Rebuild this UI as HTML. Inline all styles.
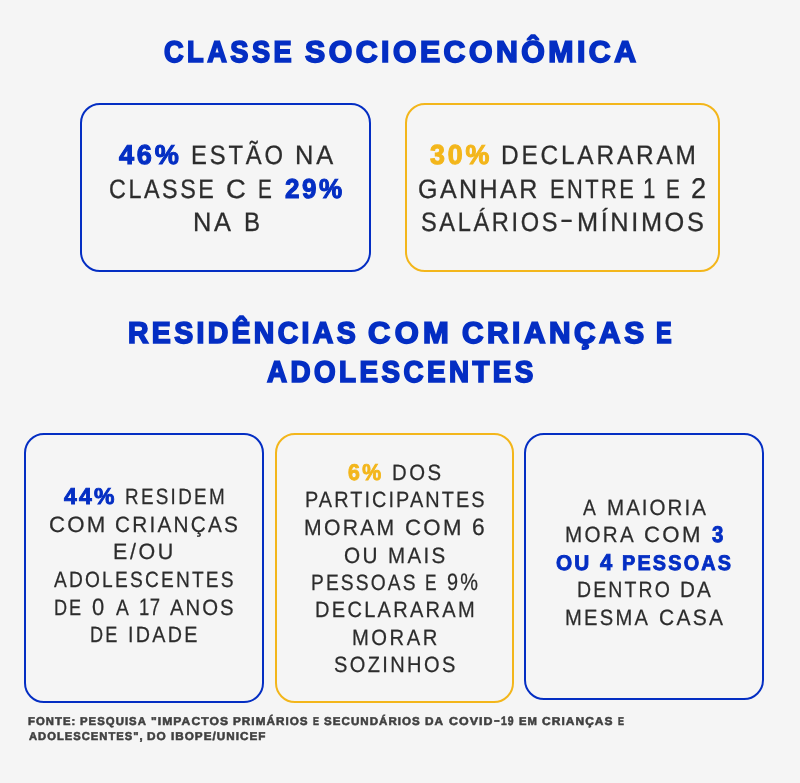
<!DOCTYPE html>
<html lang="pt-BR"><head><meta charset="utf-8"><title>Classe socioeconômica</title>
<style>
html,body{margin:0;padding:0;background:#f5f5f5;}
body{width:800px;height:783px;background:#f5f5f5;position:relative;overflow:hidden;font-family:"Liberation Sans",sans-serif;text-rendering:geometricPrecision;}
.card{position:absolute;box-sizing:border-box;border:2.2px solid;border-radius:20px;}
.ln{position:absolute;left:0;top:0;margin:0;padding:0;white-space:nowrap;font-size:0;font-weight:400;}
.ln span{position:absolute;white-space:nowrap;display:block;transform-origin:0 0;}
.t span{line-height:40px;height:40px;}
.b span{line-height:34px;height:34px;}
.s span{line-height:28px;height:28px;}
.f span{line-height:16px;height:16px;}
.B{font-weight:700;} .R{font-weight:400;}
.blue{color:#042ec3;} .yel{color:#f3b61b;} .dark{color:#2c2c2c;} .foot{color:#404040;}
</style></head><body>
<main>
<h1 class="ln t"><span class="B blue" style="left:164.12px;top:33px;font-size:30.09px;letter-spacing:3.84px;transform:scaleX(0.904);-webkit-text-stroke:1.7px">CLASSE</span> <span class="B blue" style="left:304.88px;top:33px;font-size:30.09px;letter-spacing:3.46px;transform:scaleX(1.006);-webkit-text-stroke:1.7px">SOCIOECONÔMICA</span></h1>
<section class="stat">
<div class="card" style="left:80px;top:103px;width:291.0px;height:169.0px;border-color:#042ec3"></div>
<p class="ln b"><span class="B blue" style="left:118.94px;top:138px;font-size:27.33px;letter-spacing:2.85px;transform:scaleX(0.990);-webkit-text-stroke:1.1px">46%</span> <span class="R dark" style="left:190.65px;top:138px;font-size:26.6px;letter-spacing:3.15px;transform:scaleX(0.895);-webkit-text-stroke:0.3px">ESTÃO</span> <span class="R dark" style="left:295.02px;top:138px;font-size:26.6px;letter-spacing:2.95px;transform:scaleX(0.955);-webkit-text-stroke:0.3px">NA</span>
<span class="R dark" style="left:108.94px;top:172px;font-size:26.6px;letter-spacing:2.91px;transform:scaleX(0.878);-webkit-text-stroke:0.3px">CLASSE</span> <span class="R dark" style="left:226.29px;top:172px;font-size:26.6px;letter-spacing:0.00px;transform:scaleX(1.031);-webkit-text-stroke:0.3px">C</span> <span class="R dark" style="left:258.14px;top:172px;font-size:26.6px;letter-spacing:0.00px;transform:scaleX(0.780);-webkit-text-stroke:0.3px">E</span> <span class="B blue" style="left:284.64px;top:172px;font-size:27.33px;letter-spacing:2.68px;transform:scaleX(0.952);-webkit-text-stroke:1.1px">29%</span>
<span class="R dark" style="left:192.66px;top:205px;font-size:26.6px;letter-spacing:2.83px;transform:scaleX(0.955);-webkit-text-stroke:0.3px">NA</span> <span class="R dark" style="left:243.60px;top:205px;font-size:26.6px;letter-spacing:0.00px;transform:scaleX(0.903);-webkit-text-stroke:0.3px">B</span></p>
</section>
<section class="stat">
<div class="card" style="left:405px;top:103px;width:315.0px;height:169.0px;border-color:#f3b61b"></div>
<p class="ln b"><span class="B yel" style="left:429.62px;top:138px;font-size:27.33px;letter-spacing:2.87px;transform:scaleX(0.979);-webkit-text-stroke:1.1px">30%</span> <span class="R dark" style="left:500.61px;top:138px;font-size:26.6px;letter-spacing:3.06px;transform:scaleX(0.918);-webkit-text-stroke:0.3px">DECLARARAM</span>
<span class="R dark" style="left:418.17px;top:172px;font-size:26.6px;letter-spacing:2.58px;transform:scaleX(0.941);-webkit-text-stroke:0.3px">GANHAR</span> <span class="R dark" style="left:549.73px;top:172px;font-size:26.6px;letter-spacing:2.96px;transform:scaleX(0.821);-webkit-text-stroke:0.3px">ENTRE</span> <span class="R dark" style="left:643.05px;top:172px;font-size:28.49px;letter-spacing:0.00px;transform:scaleX(0.780);-webkit-text-stroke:0.3px">1</span> <span class="R dark" style="left:665.55px;top:172px;font-size:26.6px;letter-spacing:0.00px;transform:scaleX(0.780);-webkit-text-stroke:0.3px">E</span> <span class="R dark" style="left:691.37px;top:172px;font-size:28.49px;letter-spacing:0.00px;transform:scaleX(0.952);-webkit-text-stroke:0.3px">2</span>
<span class="R dark" style="left:420.64px;top:205px;font-size:26.6px;letter-spacing:2.93px;transform:scaleX(0.889);-webkit-text-stroke:0.3px">SALÁRIOS</span><span class="R dark" style="left:560.48px;top:202px;font-size:26.6px;letter-spacing:0.00px;transform:scaleX(1.489);-webkit-text-stroke:0.3px">-</span><span class="R dark" style="left:576.99px;top:205px;font-size:26.6px;letter-spacing:2.73px;transform:scaleX(0.953);-webkit-text-stroke:0.3px">MÍNIMOS</span></p>
</section>
<h2 class="ln t"><span class="B blue" style="left:127.78px;top:314px;font-size:30.09px;letter-spacing:3.53px;transform:scaleX(0.945);-webkit-text-stroke:1.7px">RESIDÊNCIAS</span> <span class="B blue" style="left:367.91px;top:314px;font-size:30.09px;letter-spacing:4.24px;transform:scaleX(1.027);-webkit-text-stroke:1.7px">COM</span> <span class="B blue" style="left:461.51px;top:314px;font-size:30.09px;letter-spacing:3.56px;transform:scaleX(0.991);-webkit-text-stroke:1.7px">CRIANÇAS</span> <span class="B blue" style="left:656.15px;top:314px;font-size:30.09px;letter-spacing:0.00px;transform:scaleX(0.780);-webkit-text-stroke:1.7px">E</span>
<span class="B blue" style="left:266.60px;top:353px;font-size:30.09px;letter-spacing:3.72px;transform:scaleX(0.924);-webkit-text-stroke:1.7px">ADOLESCENTES</span></h2>
<section class="stat">
<div class="card" style="left:24px;top:432.7px;width:239.6px;height:270.3px;border-color:#042ec3"></div>
<p class="ln s"><span class="B blue" style="left:64.40px;top:482px;font-size:22.8px;letter-spacing:2.26px;transform:scaleX(1.007);-webkit-text-stroke:0.9px">44%</span> <span class="R dark" style="left:124.67px;top:483px;font-size:22.17px;letter-spacing:2.68px;transform:scaleX(0.851);-webkit-text-stroke:0.25px">RESIDEM</span>
<span class="R dark" style="left:49.02px;top:511px;font-size:22.17px;letter-spacing:2.20px;transform:scaleX(1.003);-webkit-text-stroke:0.25px">COM</span> <span class="R dark" style="left:115.41px;top:511px;font-size:22.17px;letter-spacing:2.36px;transform:scaleX(0.938);-webkit-text-stroke:0.25px">CRIANÇAS</span>
<span class="R dark" style="left:113.38px;top:538px;font-size:22.17px;letter-spacing:2.66px;transform:scaleX(0.968);-webkit-text-stroke:0.25px">E/OU</span>
<span class="R dark" style="left:54.11px;top:566px;font-size:22.17px;letter-spacing:2.53px;transform:scaleX(0.865);-webkit-text-stroke:0.25px">ADOLESCENTES</span>
<span class="R dark" style="left:54.13px;top:594px;font-size:22.17px;letter-spacing:2.45px;transform:scaleX(0.819);-webkit-text-stroke:0.25px">DE</span> <span class="R dark" style="left:92.32px;top:594px;font-size:23.74px;letter-spacing:0.00px;transform:scaleX(0.927);-webkit-text-stroke:0.25px">0</span> <span class="R dark" style="left:115.70px;top:594px;font-size:22.17px;letter-spacing:0.00px;transform:scaleX(0.870);-webkit-text-stroke:0.25px">A</span> <span class="R dark" style="left:138.53px;top:594px;font-size:23.74px;letter-spacing:0.55px;transform:scaleX(0.780);-webkit-text-stroke:0.25px">17</span> <span class="R dark" style="left:170.11px;top:594px;font-size:22.17px;letter-spacing:2.18px;transform:scaleX(0.918);-webkit-text-stroke:0.25px">ANOS</span>
<span class="R dark" style="left:89.88px;top:621px;font-size:22.17px;letter-spacing:2.77px;transform:scaleX(0.819);-webkit-text-stroke:0.25px">DE</span> <span class="R dark" style="left:128.21px;top:621px;font-size:22.17px;letter-spacing:2.54px;transform:scaleX(0.891);-webkit-text-stroke:0.25px">IDADE</span></p>
</section>
<section class="stat">
<div class="card" style="left:274.5px;top:432.7px;width:239.5px;height:270.3px;border-color:#f3b61b"></div>
<p class="ln s"><span class="B yel" style="left:348.42px;top:458px;font-size:22.8px;letter-spacing:2.70px;transform:scaleX(0.934);-webkit-text-stroke:0.9px">6%</span> <span class="R dark" style="left:391.87px;top:459px;font-size:22.17px;letter-spacing:2.75px;transform:scaleX(0.918);-webkit-text-stroke:0.25px">DOS</span>
<span class="R dark" style="left:304.75px;top:486px;font-size:22.17px;letter-spacing:2.30px;transform:scaleX(0.898);-webkit-text-stroke:0.25px">PARTICIPANTES</span>
<span class="R dark" style="left:304.20px;top:514px;font-size:22.17px;letter-spacing:2.41px;transform:scaleX(0.954);-webkit-text-stroke:0.25px">MORAM</span> <span class="R dark" style="left:404.71px;top:514px;font-size:22.17px;letter-spacing:2.29px;transform:scaleX(1.003);-webkit-text-stroke:0.25px">COM</span> <span class="R dark" style="left:471.92px;top:514px;font-size:23.74px;letter-spacing:0.00px;transform:scaleX(0.960);-webkit-text-stroke:0.25px">6</span>
<span class="R dark" style="left:343.68px;top:542px;font-size:22.17px;letter-spacing:2.48px;transform:scaleX(0.936);-webkit-text-stroke:0.25px">OU</span> <span class="R dark" style="left:387.58px;top:542px;font-size:22.17px;letter-spacing:2.50px;transform:scaleX(0.927);-webkit-text-stroke:0.25px">MAIS</span>
<span class="R dark" style="left:310.55px;top:569px;font-size:22.17px;letter-spacing:2.47px;transform:scaleX(0.866);-webkit-text-stroke:0.25px">PESSOAS</span> <span class="R dark" style="left:425.04px;top:569px;font-size:22.17px;letter-spacing:0.00px;transform:scaleX(0.780);-webkit-text-stroke:0.25px">E</span> <span class="R dark" style="left:447.16px;top:569px;font-size:23.74px;letter-spacing:2.55px;transform:scaleX(0.839);-webkit-text-stroke:0.25px">9%</span>
<span class="R dark" style="left:314.58px;top:596px;font-size:22.17px;letter-spacing:2.51px;transform:scaleX(0.905);-webkit-text-stroke:0.25px">DECLARARAM</span>
<span class="R dark" style="left:351.67px;top:624px;font-size:22.17px;letter-spacing:2.76px;transform:scaleX(0.913);-webkit-text-stroke:0.25px">MORAR</span>
<span class="R dark" style="left:333.71px;top:651px;font-size:22.17px;letter-spacing:2.63px;transform:scaleX(0.904);-webkit-text-stroke:0.25px">SOZINHOS</span></p>
</section>
<section class="stat">
<div class="card" style="left:524px;top:432.7px;width:240.2px;height:267.7px;border-color:#042ec3"></div>
<p class="ln s"><span class="R dark" style="left:583.11px;top:494px;font-size:22.17px;letter-spacing:0.00px;transform:scaleX(0.870);-webkit-text-stroke:0.25px">A</span> <span class="R dark" style="left:606.50px;top:494px;font-size:22.17px;letter-spacing:2.16px;transform:scaleX(0.928);-webkit-text-stroke:0.25px">MAIORIA</span>
<span class="R dark" style="left:564.69px;top:521px;font-size:22.17px;letter-spacing:2.47px;transform:scaleX(0.931);-webkit-text-stroke:0.25px">MORA</span> <span class="R dark" style="left:644.45px;top:521px;font-size:22.17px;letter-spacing:2.29px;transform:scaleX(1.003);-webkit-text-stroke:0.25px">COM</span> <span class="B blue" style="left:711.96px;top:520px;font-size:22.8px;letter-spacing:0.00px;transform:scaleX(0.894);-webkit-text-stroke:0.9px">3</span>
<span class="B blue" style="left:556.06px;top:550px;font-size:21.22px;letter-spacing:2.23px;transform:scaleX(0.978);-webkit-text-stroke:0.9px">OU</span> <span class="B blue" style="left:599.82px;top:548px;font-size:22.8px;letter-spacing:0.00px;transform:scaleX(0.962);-webkit-text-stroke:0.9px">4</span> <span class="B blue" style="left:622.46px;top:550px;font-size:21.22px;letter-spacing:2.32px;transform:scaleX(0.936);-webkit-text-stroke:0.9px">PESSOAS</span>
<span class="R dark" style="left:577.23px;top:576px;font-size:22.17px;letter-spacing:2.41px;transform:scaleX(0.880);-webkit-text-stroke:0.25px">DENTRO</span> <span class="R dark" style="left:680.24px;top:576px;font-size:22.17px;letter-spacing:2.27px;transform:scaleX(0.934);-webkit-text-stroke:0.25px">DA</span>
<span class="R dark" style="left:564.73px;top:604px;font-size:22.17px;letter-spacing:2.50px;transform:scaleX(0.910);-webkit-text-stroke:0.25px">MESMA</span> <span class="R dark" style="left:658.83px;top:604px;font-size:22.17px;letter-spacing:2.41px;transform:scaleX(0.947);-webkit-text-stroke:0.25px">CASA</span></p>
</section>
</main>
<footer><p class="ln f"><span class="B foot" style="left:28.33px;top:714px;font-size:11.41px;letter-spacing:1.06px;transform:scaleX(0.990);-webkit-text-stroke:0.55px">FONTE:</span> <span class="B foot" style="left:80.21px;top:714px;font-size:11.41px;letter-spacing:1.05px;transform:scaleX(0.994);-webkit-text-stroke:0.55px">PESQUISA</span> <span class="B foot" style="left:150.88px;top:714px;font-size:11.41px;letter-spacing:0.99px;transform:scaleX(1.062);-webkit-text-stroke:0.55px">&quot;IMPACTOS</span> <span class="B foot" style="left:233.08px;top:714px;font-size:11.41px;letter-spacing:1.02px;transform:scaleX(1.025);-webkit-text-stroke:0.55px">PRIMÁRIOS</span> <span class="B foot" style="left:312.98px;top:714px;font-size:11.41px;letter-spacing:0.00px;transform:scaleX(0.780);-webkit-text-stroke:0.55px">E</span> <span class="B foot" style="left:324.31px;top:714px;font-size:11.41px;letter-spacing:1.03px;transform:scaleX(1.013);-webkit-text-stroke:0.55px">SECUNDÁRIOS</span> <span class="B foot" style="left:425.44px;top:714px;font-size:11.41px;letter-spacing:1.01px;transform:scaleX(1.039);-webkit-text-stroke:0.55px">DA</span> <span class="B foot" style="left:448.60px;top:714px;font-size:11.41px;letter-spacing:0.96px;transform:scaleX(1.087);-webkit-text-stroke:0.55px">COVID</span><span class="B foot" style="left:493.68px;top:713px;font-size:11.41px;letter-spacing:0.00px;transform:scaleX(1.521);-webkit-text-stroke:0.55px">-</span><span class="B foot" style="left:501.21px;top:713px;font-size:12.26px;letter-spacing:1.23px;transform:scaleX(0.850);-webkit-text-stroke:0.55px">19</span> <span class="B foot" style="left:519.13px;top:714px;font-size:11.41px;letter-spacing:1.06px;transform:scaleX(0.990);-webkit-text-stroke:0.55px">EM</span> <span class="B foot" style="left:542.21px;top:714px;font-size:11.41px;letter-spacing:1.00px;transform:scaleX(1.050);-webkit-text-stroke:0.55px">CRIANÇAS</span> <span class="B foot" style="left:618.02px;top:714px;font-size:11.41px;letter-spacing:0.00px;transform:scaleX(0.780);-webkit-text-stroke:0.55px">E</span>
<span class="B foot" style="left:28.82px;top:729px;font-size:11.41px;letter-spacing:1.05px;transform:scaleX(0.980);-webkit-text-stroke:0.55px">ADOLESCENTES&quot;,</span> <span class="B foot" style="left:147.44px;top:729px;font-size:11.41px;letter-spacing:0.99px;transform:scaleX(1.038);-webkit-text-stroke:0.55px">DO</span> <span class="B foot" style="left:171.22px;top:729px;font-size:11.41px;letter-spacing:1.00px;transform:scaleX(1.024);-webkit-text-stroke:0.55px">IBOPE/UNICEF</span></p></footer>
</body></html>
